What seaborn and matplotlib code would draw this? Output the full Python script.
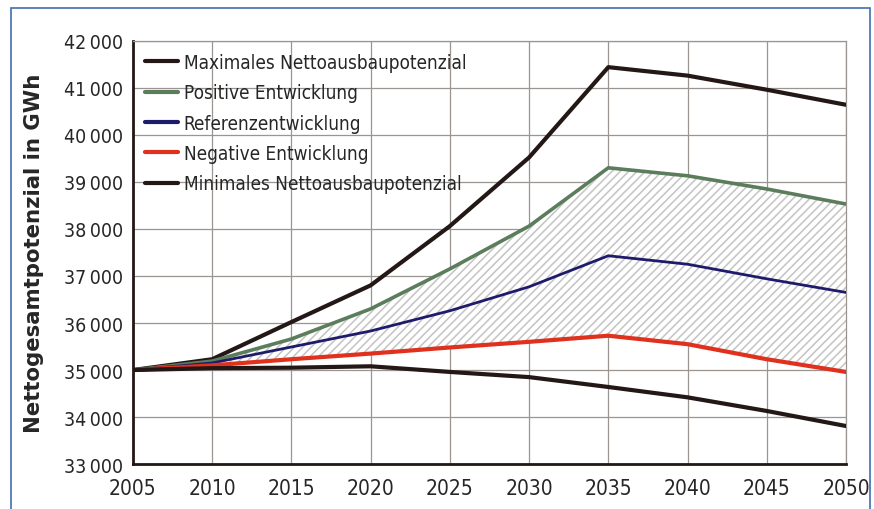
import pandas as pd
import matplotlib
matplotlib.use("Agg")
import matplotlib.pyplot as plt
import matplotlib.patches as mpatches
import seaborn as sns

# data (GWh)
years = [2005, 2010, 2015, 2020, 2025, 2030, 2035, 2040, 2045, 2050]
maximal = [35000, 35230, 36020, 36800, 38060, 39520, 41440, 41260, 40960, 40640]
positiv = [35000, 35190, 35660, 36300, 37150, 38060, 39300, 39130, 38850, 38530]
referenz = [35000, 35150, 35490, 35830, 36260, 36770, 37430, 37250, 36940, 36650]
negativ = [35000, 35100, 35230, 35350, 35480, 35600, 35730, 35550, 35230, 34960]
minimal = [35000, 35040, 35050, 35080, 34960, 34850, 34640, 34420, 34130, 33810]

labels = ["Maximales Nettoausbaupotenzial", "Positive Entwicklung",
          "Referenzentwicklung", "Negative Entwicklung",
          "Minimales Nettoausbaupotenzial"]
colors = ["#231815", "#5b7d5c", "#1f1b6b", "#e0301e", "#231815"]
widths = [3.0, 2.6, 2.0, 3.0, 3.0]

yticks = [33000, 34000, 35000, 36000, 37000, 38000, 39000, 40000, 41000, 42000]
ytick_labels = ["33\u2009000", "34\u2009000", "35\u2009000", "36\u2009000", "37\u2009000",
                "38\u2009000", "39\u2009000", "40\u2009000", "41\u2009000", "42\u2009000"]

df = pd.DataFrame({"Jahr": years, labels[0]: maximal, labels[1]: positiv,
                   labels[2]: referenz, labels[3]: negativ, labels[4]: minimal})

sns.set_style("white")
plt.rcParams["font.family"] = ["DejaVu Sans"]
plt.rcParams["font.stretch"] = "condensed"
plt.rcParams["hatch.linewidth"] = 1.1
plt.rcParams["hatch.color"] = "#c4c4c4"

fig = plt.figure(figsize=(8.74, 5.1), dpi=100)
ax = fig.add_axes([0.152, 0.088, 0.816, 0.830])

# blue frame around the figure
fig.patches.append(mpatches.Rectangle((0.013, -0.05), 0.982, 1.032, transform=fig.transFigure,
                                      fill=False, edgecolor="#3f6fae", linewidth=1.2))

# hatched band between positive and negative development
ax.fill_between(df["Jahr"], df[labels[3]], df[labels[1]], facecolor="white",
                hatch="////", edgecolor="#c4c4c4", linewidth=0, zorder=1)

for lab, col, lw in zip(labels, colors, widths):
    sns.lineplot(data=df, x="Jahr", y=lab, color=col, linewidth=lw, label=lab,
                 ax=ax, zorder=3)

ax.set_xlim(2005, 2050)
ax.set_ylim(33000, 42000)
ax.set_xticks(years)
ax.set_xticklabels([str(y) for y in years], fontsize=15)
ax.set_yticks(yticks)
ax.set_yticklabels(ytick_labels, fontsize=14)
ax.set_yticks([v + 500 for v in yticks[:-1]], minor=True)
ax.tick_params(axis="y", which="major", direction="inout", length=10, width=1.5, color="#231815", pad=2)
ax.tick_params(axis="y", which="minor", direction="out", length=5, width=1.5, color="#231815")
ax.tick_params(axis="x", direction="inout", length=12, width=1.5, color="#231815", pad=4)

ax.grid(True, which="major", color="#9a9590", linewidth=0.9, zorder=0)
ax.set_axisbelow(True)
for side in ["top", "right"]:
    ax.spines[side].set_color("#9a9590")
    ax.spines[side].set_linewidth(0.9)
for side in ["left", "bottom"]:
    ax.spines[side].set_color("#231815")
    ax.spines[side].set_linewidth(2.0)

ax.set_xlabel("")
ax.set_ylabel("Nettogesamtpotenzial in GWh", fontsize=15.3, fontweight="bold",
              family="DejaVu Sans", fontstretch="normal", labelpad=14)

leg = ax.legend(loc="upper left", bbox_to_anchor=(0.0, 1.0), frameon=False,
                fontsize=13.6, handlelength=1.75, handletextpad=0.3, labelspacing=0.6,
                borderaxespad=0.25)
for h in leg.get_lines():
    h.set_linewidth(3.0)

fig.savefig("out.png", dpi=100)
